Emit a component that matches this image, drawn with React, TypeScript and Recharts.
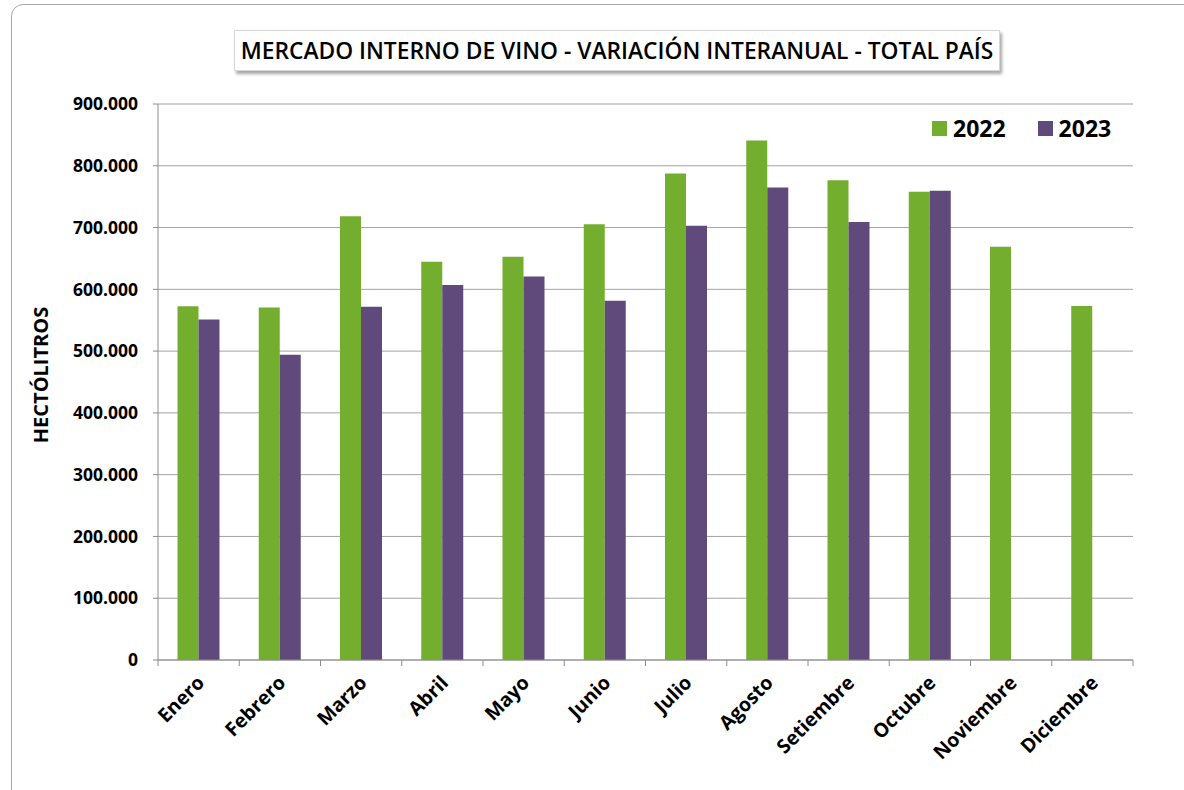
import React from 'react';
import { BarChart, Bar, XAxis, YAxis, CartesianGrid, Legend } from 'recharts';

const months = ['Enero', 'Febrero', 'Marzo', 'Abril', 'Mayo', 'Junio', 'Julio', 'Agosto', 'Setiembre', 'Octubre', 'Noviembre', 'Diciembre'];
const values2022 = [572500, 570400, 718100, 644800, 652900, 705200, 787700, 841100, 776400, 758100, 669100, 573100];
const values2023: (number | null)[] = [551000, 494300, 572000, 607100, 620600, 581700, 703100, 765000, 709000, 759700, null, null];
const yTicks = [0, 100000, 200000, 300000, 400000, 500000, 600000, 700000, 800000, 900000];
const seriesNames = ['2022', '2023'];
const seriesColors = ['#73AE2F', '#604A7B'];

const title = 'MERCADO INTERNO DE VINO - VARIACIÓN INTERANUAL - TOTAL PAÍS';
const yTitle = 'HECTÓLITROS';

const data = months.map((m, i) => ({ month: m, v2022: values2022[i], v2023: values2023[i] }));

const FONT = "'Open Sans', 'DejaVu Sans', sans-serif";

const fmt = (n: number) => String(n).replace(/\B(?=(\d{3})+(?!\d))/g, '.');

const XTick = (props: any) => {
  const { x, y, payload, index } = props;
  const half = payload?.offset ?? 0;
  const last = index === months.length - 1;
  return (
    <g>
      <line x1={x - half} x2={x - half} y1={y} y2={y + 6} stroke="#8c8c8c" strokeWidth={1} />
      {last && <line x1={x + half} x2={x + half} y1={y} y2={y + 6} stroke="#8c8c8c" strokeWidth={1} />}
      <text
        transform={`translate(${x + 7},${y + 24}) rotate(-45)`}
        textAnchor="end"
        fontFamily={FONT}
        fontWeight={700}
        fontSize={19.5}
        fill="#000"
      >
        {payload.value}
      </text>
    </g>
  );
};

const LegendContent = () => (
  <div style={{ display: 'flex', alignItems: 'center', fontFamily: FONT, fontWeight: 700, fontSize: 23, color: '#000' }}>
    {seriesNames.map((s, i) => (
      <div key={s} style={{ display: 'flex', alignItems: 'center', marginRight: i === 0 ? 32 : 0 }}>
        <div style={{ width: 15, height: 15, background: seriesColors[i], marginRight: 6 }} />
        <span style={{ lineHeight: '24px' }}>{s}</span>
      </div>
    ))}
  </div>
);

export default function App() {
  return (
    <div style={{ position: 'absolute', left: 0, top: 0, width: 1184, height: 790, overflow: 'hidden', background: '#fff' }}>
      <div
        style={{
          position: 'absolute',
          left: 11,
          top: 4,
          width: 1200,
          height: 800,
          border: '1.5px solid #a8a8a8',
          borderRadius: 12,
          boxSizing: 'border-box',
        }}
      />
      <div
        style={{
          position: 'absolute',
          left: 234,
          top: 30,
          width: 766,
          height: 41,
          border: '1px solid #d6d6d6',
          boxShadow: '2px 3px 3px rgba(0,0,0,0.35)',
          background: '#fff',
          boxSizing: 'border-box',
          display: 'flex',
          alignItems: 'center',
          justifyContent: 'center',
          fontFamily: FONT,
          fontSize: 22.8,
          fontWeight: 600,
          color: '#000',
          whiteSpace: 'nowrap',
          zIndex: 2,
        }}
      >
        {title}
      </div>
      <div style={{ position: 'absolute', left: 0, top: 0 }}>
        <BarChart
          width={1184}
          height={790}
          data={data}
          margin={{ top: 104, right: 51, left: 0, bottom: 0 }}
          barCategoryGap="24%"
          barGap={0}
        >
          <CartesianGrid vertical={false} stroke="#a3a3a3" strokeWidth={1} />
          <XAxis
            dataKey="month"
            height={130}
            interval={0}
            tickSize={0}
            tickMargin={0}
            tickLine={false}
            axisLine={{ stroke: '#8c8c8c', strokeWidth: 1 }}
            tick={<XTick />}
          />
          <YAxis
            width={158}
            domain={[0, 900000]}
            ticks={yTicks}
            interval={0}
            tickFormatter={fmt}
            tickSize={5}
            tickMargin={15}
            axisLine={{ stroke: '#8c8c8c', strokeWidth: 1 }}
            tickLine={{ stroke: '#8c8c8c', strokeWidth: 1 }}
            tick={{ fontFamily: FONT, fontWeight: 700, fontSize: 17.5, fill: '#000' }}
            label={{
              value: yTitle,
              angle: -90,
              position: 'insideLeft',
              offset: 0,
              content: () => (
                <text
                  transform={`translate(48,375) rotate(-90)`}
                  textAnchor="middle"
                  fontFamily={FONT}
                  fontWeight={700}
                  fontSize={20}
                  fill="#000"
                >
                  {yTitle}
                </text>
              ),
            }}
          />
          <Legend
            layout="horizontal"
            verticalAlign="middle"
            align="center"
            wrapperStyle={{ position: 'absolute', left: 932, top: 116, width: 'auto' }}
            content={<LegendContent />}
          />
          <Bar dataKey="v2022" name={seriesNames[0]} fill={seriesColors[0]} isAnimationActive={false} />
          <Bar dataKey="v2023" name={seriesNames[1]} fill={seriesColors[1]} isAnimationActive={false} />
        </BarChart>
      </div>
    </div>
  );
}
